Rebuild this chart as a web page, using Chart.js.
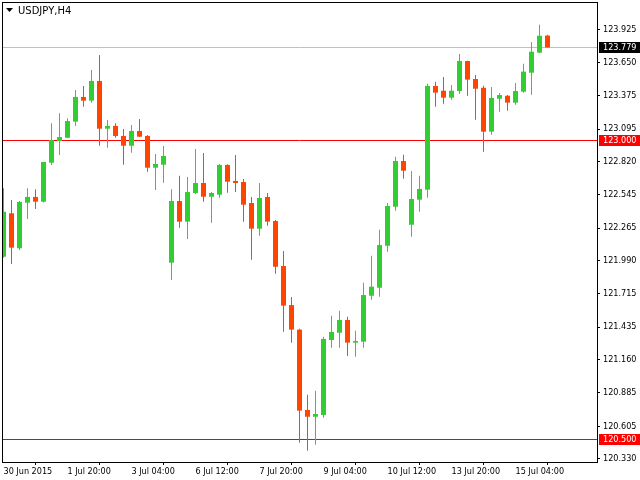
<!DOCTYPE html>
<html>
<head>
<meta charset="utf-8">
<script src="https://cdn.jsdelivr.net/npm/chart.js@4.4.0/dist/chart.umd.min.js"></script>
<style>
  html, body { margin: 0; padding: 0; background: #ffffff; }
  #wrap { width: 640px; height: 480px; position: relative; }
</style>
</head>
<body>
<div id="wrap"><canvas id="c" width="640" height="480"></canvas></div>
<script>
// ---- data (USDJPY, H4) ----
const symbolTitle = "USDJPY,H4";
const opens  = [122.025,122.389,122.096,122.478,122.526,122.486,122.813,122.995,123.022,123.157,
                123.364,123.333,123.498,123.098,123.121,123.037,122.955,123.079,123.037,122.771,
                122.796,121.975,122.492,122.319,122.559,122.643,122.528,122.545,122.794,122.660,
                122.651,122.475,122.260,122.526,122.324,121.947,121.620,121.414,120.741,120.684,
                120.699,121.327,121.388,121.495,121.305,121.313,121.698,121.765,122.117,122.444,
                122.827,122.293,122.503,122.587,123.456,123.416,123.358,123.414,123.665,123.514,
                123.441,123.073,123.349,123.374,123.316,123.408,123.567,123.735,123.878];
const highs  = [122.598,122.500,122.492,122.598,122.590,122.819,123.143,123.227,123.185,123.422,
                123.456,123.590,123.715,123.171,123.143,123.095,123.129,123.179,123.045,122.886,
                122.953,122.590,122.704,122.693,122.928,122.894,122.567,122.802,122.800,122.878,
                122.676,122.526,122.643,122.559,122.333,122.073,121.688,121.422,120.869,120.902,
                121.355,121.531,121.573,121.522,121.405,121.807,122.034,122.251,122.475,122.863,
                122.880,122.743,122.704,123.475,123.492,123.531,123.464,123.724,123.668,123.548,
                123.458,123.447,123.397,123.380,123.481,123.643,123.824,123.969,123.886];
const lows   = [122.017,121.964,122.081,122.341,122.425,122.480,122.794,122.878,123.020,123.121,
                123.282,123.316,122.955,122.939,123.022,122.796,122.897,123.028,122.738,122.584,
                122.645,121.830,122.268,122.174,122.551,122.486,122.310,122.520,122.562,122.567,
                122.319,122.000,122.201,122.285,121.883,121.397,121.305,120.467,120.400,120.450,
                120.676,121.263,121.263,121.193,121.187,121.263,121.665,121.690,122.067,122.411,
                122.679,122.193,122.402,122.520,123.282,123.307,123.341,123.391,123.374,123.173,
                122.905,123.048,123.240,123.249,123.299,123.400,123.383,123.732,123.779];
const closes = [122.402,122.101,122.484,122.526,122.486,122.819,123.003,123.028,123.162,123.364,
                123.333,123.498,123.098,123.121,123.037,122.955,123.079,123.031,122.771,122.802,
                122.869,122.492,122.319,122.567,122.643,122.528,122.559,122.794,122.654,122.643,
                122.461,122.260,122.517,122.319,121.941,121.615,121.414,120.735,120.684,120.707,
                121.336,121.394,121.495,121.305,121.319,121.704,121.774,122.123,122.450,122.827,
                122.746,122.509,122.593,123.456,123.400,123.358,123.416,123.665,123.509,123.433,
                123.073,123.355,123.380,123.316,123.414,123.576,123.743,123.877,123.779];
const timeTickIndex = [0, 8, 16, 24, 32, 40, 48, 56, 64];
const timeTickLabels = ["30 Jun 2015", "1 Jul 20:00", "3 Jul 04:00", "6 Jul 12:00", "7 Jul 20:00",
                        "9 Jul 04:00", "10 Jul 12:00", "13 Jul 20:00", "15 Jul 04:00"];
const priceTicks = [120.330, 120.605, 120.885, 121.160, 121.435, 121.715, 121.990,
                    122.265, 122.545, 122.820, 123.095, 123.375, 123.650, 123.925];
const levelLines = [123.000, 120.500];
const lastPrice = 123.779;

// ---- styling ----
const UP = "#32CD32", DOWN = "#FF4500";
const FONT = "'DejaVu Sans Condensed', 'Liberation Sans', sans-serif";
const candleColor = (i) => (closes[i] >= opens[i] ? UP : DOWN);

const wickData = opens.map((o, i) => ({ x: i, y: [lows[i], highs[i]] }));
const bodyData = opens.map((o, i) => ({ x: i, y: [opens[i], closes[i]] }));

const overlay = {
  id: 'overlay',
  beforeDatasetsDraw(chart) {
    const { ctx, chartArea: a, scales: { y } } = chart;
    ctx.save();
    ctx.lineWidth = 1;
    const hline = (v, col) => {
      const py = Math.round(y.getPixelForValue(v)) + 0.5;
      ctx.strokeStyle = col;
      ctx.beginPath(); ctx.moveTo(a.left, py); ctx.lineTo(a.right, py); ctx.stroke();
    };
    hline(lastPrice, '#C0C0C0');
    levelLines.forEach(v => hline(v, '#FF0000'));
    ctx.restore();
  },
  afterDraw(chart) {
    const { ctx, chartArea: a, scales: { y } } = chart;
    ctx.save();
    // frame
    ctx.strokeStyle = '#000000';
    ctx.lineWidth = 1;
    ctx.strokeRect(a.left + 0.5, a.top + 0.5, a.right - a.left, a.bottom - a.top);
    // price tags
    ctx.font = "9px " + FONT;
    ctx.textBaseline = 'middle';
    ctx.textAlign = 'left';
    const tag = (v, bg) => {
      const py = Math.round(y.getPixelForValue(v));
      ctx.fillStyle = bg;
      ctx.fillRect(a.right + 2, py - 5, 640 - a.right - 2, 11);
      ctx.fillStyle = '#FFFFFF';
      ctx.fillText(v.toFixed(3), a.right + 6, py + 0.5);
    };
    tag(lastPrice, '#000000');
    levelLines.forEach(v => tag(v, '#FF0000'));
    // title
    ctx.fillStyle = '#000000';
    ctx.beginPath();
    ctx.moveTo(6, 8); ctx.lineTo(13, 8); ctx.lineTo(9.5, 12); ctx.closePath(); ctx.fill();
    ctx.font = "10px 'DejaVu Sans', sans-serif";
    ctx.textBaseline = 'middle';
    ctx.fillText(symbolTitle, 18, 11);
    ctx.restore();
  }
};

new Chart(document.getElementById('c'), {
  type: 'bar',
  data: {
    datasets: [
      { label: 'wick', data: wickData, grouped: false, maxBarThickness: 1,
        backgroundColor: (c) => candleColor(c.dataIndex), borderWidth: 0, inflateAmount: 0 },
      { label: 'body', data: bodyData, grouped: false, maxBarThickness: 5,
        backgroundColor: (c) => candleColor(c.dataIndex), borderWidth: 0, inflateAmount: 0 }
    ]
  },
  options: {
    responsive: false,
    animation: false,
    events: [],
    layout: { autoPadding: false, padding: { left: 2, top: 2, right: 0, bottom: 0 } },
    plugins: { legend: { display: false }, tooltip: { enabled: false }, title: { display: false } },
    scales: {
      x: {
        type: 'linear', offset: false, min: -0.1875, max: 74.1875,
        grid: { display: true, drawOnChartArea: false, drawTicks: true, tickLength: 3, color: '#000000' },
        border: { display: false },
        afterBuildTicks: (s) => { s.ticks = timeTickIndex.map(v => ({ value: v })); },
        afterFit: (s) => { s.height = 18; s.paddingLeft = 0; s.paddingRight = 0; },
        ticks: {
          autoSkip: false, maxRotation: 0, minRotation: 0, align: 'start', padding: 1,
          color: '#000000', font: { family: FONT, size: 9 },
          callback: (v) => { const k = timeTickIndex.indexOf(v); return k >= 0 ? timeTickLabels[k] : ''; }
        }
      },
      y: {
        type: 'linear', position: 'right', min: 120.3048, max: 124.1596,
        grid: { display: true, drawOnChartArea: false, drawTicks: true, tickLength: 3, color: '#000000' },
        border: { display: false },
        afterBuildTicks: (s) => { s.ticks = priceTicks.map(v => ({ value: v })); },
        afterFit: (s) => { s.width = 43; s.paddingTop = 0; s.paddingBottom = 0; },
        ticks: {
          autoSkip: false, padding: 3, color: '#000000', font: { family: FONT, size: 9 },
          callback: (v) => v.toFixed(3)
        }
      }
    }
  },
  plugins: [overlay]
});
</script>
</body>
</html>
